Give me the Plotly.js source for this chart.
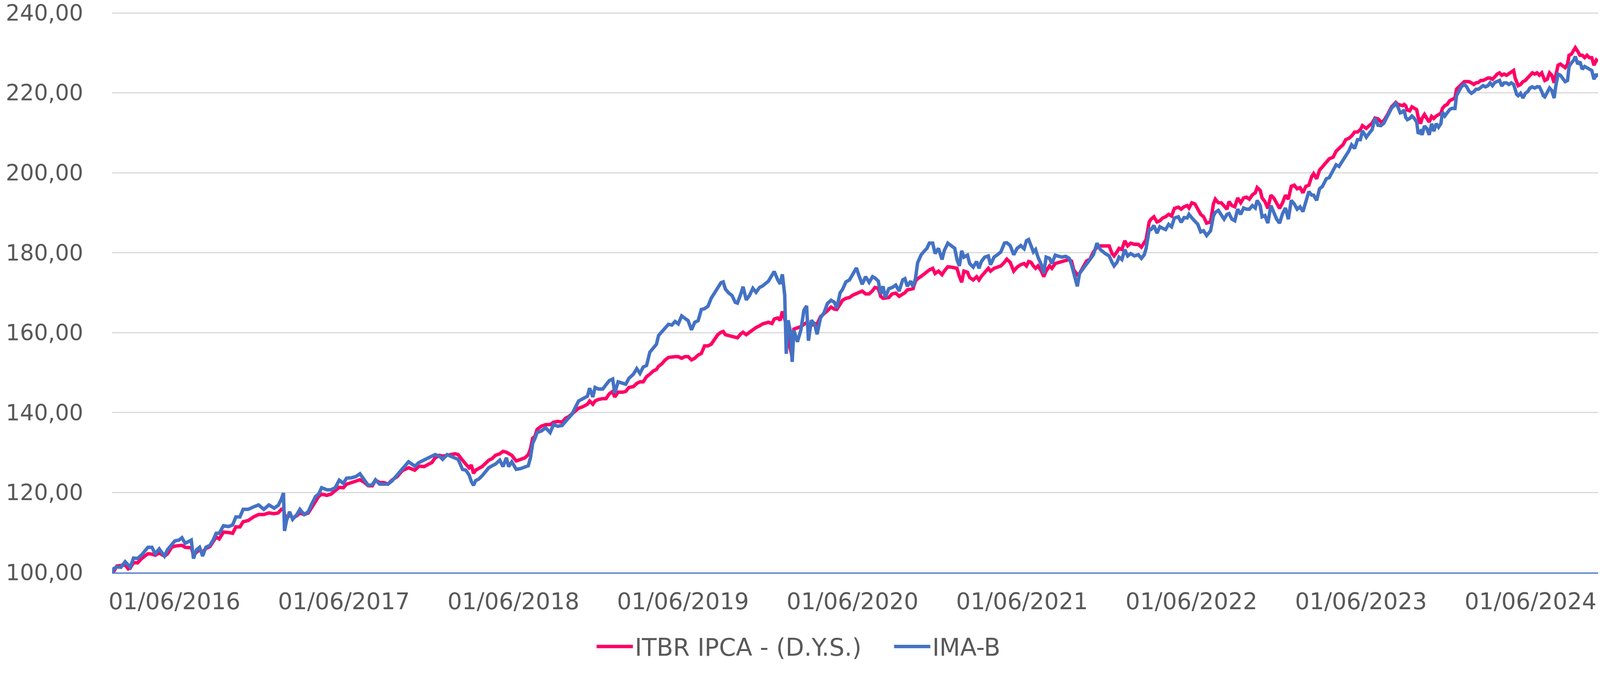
<!DOCTYPE html>
<html>
<head>
<meta charset="utf-8">
<script src="https://cdn.plot.ly/plotly-3.0.1.min.js"></script>
<style>html,body{margin:0;padding:0;background:#fff;overflow:hidden;}#chart{display:block;}</style>
</head>
<body>
<div id="chart"></div>
<script>
// time in decimal years
const t = [
2016.049,2016.060,2016.077,2016.101,2016.126,2016.144,2016.156,2016.175,2016.199,2016.223,2016.242,2016.260,2016.284,2016.303,2016.327,2016.358,2016.376,2016.400,2016.419,2016.443,2016.461,2016.480,2016.498,2016.516,2016.529,2016.547,2016.565,2016.583,2016.602,2016.626,2016.645,2016.663,2016.681,2016.706,2016.736,2016.760,2016.779,2016.803,2016.822,2016.852,2016.883,2016.913,2016.944,2016.974,2017.005,2017.029,2017.047,2017.060,2017.066,2017.078,2017.096,2017.114,2017.139,2017.157,2017.182,2017.206,2017.224,2017.249,2017.267,2017.285,2017.316,2017.340,2017.365,2017.389,2017.413,2017.432,2017.462,2017.487,2017.511,2017.536,2017.560,2017.584,2017.603,2017.627,2017.651,2017.676,2017.700,2017.731,2017.761,2017.798,2017.835,2017.859,
2017.890,2017.916,2017.935,2017.955,2017.980,2017.999,2018.026,2018.045,2018.071,2018.090,2018.103,2018.116,2018.136,2018.155,2018.168,2018.181,2018.194,2018.213,2018.232,2018.252,2018.271,2018.291,2018.310,2018.336,2018.355,2018.375,2018.388,2018.407,2018.433,2018.459,2018.485,2018.504,2018.517,2018.530,2018.543,2018.556,2018.581,2018.607,2018.633,2018.653,2018.678,2018.704,2018.724,2018.743,2018.762,2018.782,2018.801,2018.827,2018.853,2018.866,2018.885,2018.898,2018.918,2018.943,2018.963,2018.982,2019.002,2019.014,2019.034,2019.060,2019.079,2019.098,2019.124,2019.144,2019.163,2019.182,2019.202,2019.221,2019.241,2019.260,2019.273,2019.292,2019.312,2019.331,2019.351,2019.370,2019.389,2019.409,2019.428,2019.447,2019.467,2019.486,2019.506,2019.525,2019.544,2019.564,2019.583,2019.603,2019.622,2019.641,2019.654,2019.667,2019.687,2019.706,2019.725,2019.738,2019.758,2019.771,2019.790,2019.809,2019.829,2019.848,2019.868,2019.887,
2019.921,2019.942,2019.955,2019.976,2019.990,2020.003,2020.017,2020.026,2020.037,2020.051,2020.061,2020.071,2020.092,2020.112,2020.130,2020.146,2020.157,2020.174,2020.194,2020.208,2020.228,2020.249,2020.269,2020.290,2020.310,2020.324,2020.344,2020.358,2020.378,2020.399,2020.419,2020.440,2020.453,2020.474,2020.494,2020.515,2020.535,2020.549,2020.569,2020.583,2020.597,2020.610,2020.631,2020.651,2020.672,2020.692,2020.713,2020.726,2020.740,2020.760,2020.774,2020.788,2020.801,2020.822,2020.842,2020.856,2020.870,2020.890,2020.904,2020.924,2020.945,2020.958,2020.979,2020.999,2021.020,2021.033,2021.047,2021.061,2021.074,2021.095,2021.108,2021.129,2021.149,2021.163,2021.177,2021.197,2021.218,2021.231,2021.252,2021.272,2021.292,2021.313,2021.327,2021.347,2021.368,2021.388,2021.409,2021.429,2021.443,2021.456,2021.470,2021.484,2021.497,2021.511,2021.531,2021.545,2021.559,2021.579,2021.593,2021.613,2021.634,2021.654,2021.674,2021.695,2021.709,2021.722,2021.743,2021.756,2021.777,2021.797,2021.818,2021.838,2021.859,2021.879,
2021.908,2021.931,2021.948,2021.960,2021.977,2021.989,2022.006,2022.023,2022.040,2022.058,2022.080,2022.103,2022.121,2022.138,2022.149,2022.167,2022.178,2022.195,2022.213,2022.230,2022.247,2022.264,2022.282,2022.299,2022.316,2022.339,2022.356,2022.373,2022.391,2022.402,2022.419,2022.437,2022.454,2022.471,2022.488,2022.506,2022.529,2022.546,2022.557,2022.575,2022.592,2022.609,2022.626,2022.638,2022.655,2022.672,2022.689,2022.707,2022.724,2022.741,2022.758,2022.776,2022.793,2022.804,2022.822,2022.833,2022.850,2022.867,2022.885,2022.902,2022.919,2022.936,2022.954,2022.971,2022.988,2023.005,2023.023,2023.040,2023.057,2023.074,2023.091,2023.109,2023.126,2023.137,2023.155,2023.172,2023.189,2023.212,2023.229,2023.252,2023.270,2023.287,2023.310,2023.327,2023.344,2023.361,2023.379,2023.396,2023.413,2023.425,2023.448,2023.465,2023.482,2023.499,2023.517,2023.534,2023.551,2023.574,2023.597,
2023.611,2023.622,2023.634,2023.648,2023.662,2023.671,2023.680,2023.690,2023.704,2023.717,2023.731,2023.745,2023.754,2023.768,2023.777,2023.791,2023.805,2023.819,2023.833,2023.846,2023.860,2023.874,2023.888,2023.897,2023.911,2023.925,2023.939,2023.952,2023.971,2023.980,2023.994,2024.008,2024.026,2024.040,2024.054,2024.068,2024.082,2024.095,2024.109,2024.123,2024.137,2024.151,2024.165,2024.178,2024.192,2024.206,2024.220,2024.234,2024.247,2024.261,2024.275,2024.289,2024.303,2024.317,2024.326,2024.335,2024.344,2024.358,2024.372,2024.386,2024.400,2024.413,2024.427,2024.441,2024.455,2024.469,2024.483,2024.492,2024.501,2024.515,2024.529,2024.542,2024.556,2024.566,2024.579,2024.593,2024.607,2024.621,2024.635,2024.644,2024.658,2024.672,2024.681,2024.695,2024.708,2024.722,2024.736,2024.750,2024.764,2024.778,2024.791,2024.805,2024.815
];

// ITBR IPCA - (D.Y.S.)
const itbr = [
100.0,100.4,101.6,101.7,101.9,100.9,101.1,102.5,102.4,103.5,104.0,104.7,104.6,104.3,104.9,104.1,104.7,106.3,106.6,106.8,106.8,106.3,106.3,106.2,104.4,105.1,105.7,105.1,106.0,106.5,107.6,108.9,108.4,110.1,110.0,109.8,111.4,111.4,112.7,113.0,113.9,114.5,114.5,114.9,114.7,114.9,115.8,116.0,114.5,113.4,114.5,113.6,114.2,114.9,114.5,114.9,116.1,117.7,119.0,119.6,119.3,119.6,120.5,121.3,121.2,122.1,122.5,122.8,123.2,122.6,121.7,121.7,123.1,122.5,122.5,122.1,123.1,124.0,125.5,126.2,125.6,126.6,
126.5,127.1,127.5,128.7,129.3,129.1,129.3,129.3,129.7,129.5,128.7,128.1,127.1,126.2,126.9,124.8,125.6,126.0,126.5,127.3,128.1,128.5,129.3,129.7,130.3,130.1,129.7,129.3,127.9,128.3,128.7,129.5,130.9,133.6,134.0,135.8,136.6,137.0,137.0,137.6,137.8,137.6,138.6,139.0,139.6,140.5,141.1,141.5,142.1,142.9,142.1,142.9,143.3,143.5,143.5,144.7,145.3,143.9,145.1,145.1,145.3,146.3,146.5,147.3,147.7,147.7,149.0,149.6,150.4,150.8,151.6,152.2,153.2,153.8,154.0,154.0,154.0,153.6,154.0,154.0,153.2,153.6,154.4,154.8,156.7,156.7,157.1,158.5,159.5,160.1,160.3,159.5,159.3,159.1,158.7,158.7,159.7,160.1,159.5,160.1,160.9,161.3,161.7,162.2,
162.6,162.3,163.4,163.7,163.1,165.3,163.4,162.0,158.6,155.5,153.9,160.9,161.2,161.5,162.1,162.5,161.8,161.8,162.3,162.1,164.0,164.7,165.5,166.4,165.9,165.8,167.2,168.1,168.6,168.8,169.4,169.7,170.0,170.4,169.7,169.7,170.5,171.3,171.1,169.1,168.6,168.6,168.8,169.7,169.9,169.1,169.7,170.0,170.7,170.8,171.0,172.9,173.5,174.1,174.8,175.1,175.7,176.1,174.8,175.4,174.5,175.4,176.5,176.4,176.1,176.1,174.1,172.6,175.4,175.1,173.8,173.2,174.0,173.2,174.1,175.1,176.1,175.4,176.1,176.4,176.7,177.6,178.4,177.6,175.4,176.4,177.0,177.3,176.7,177.8,177.6,176.7,176.1,176.7,175.4,174.0,175.4,176.7,176.1,177.3,177.5,177.8,177.9,178.3,177.9,175.7,174.5,174.8,176.4,177.9,178.4,180.2,181.4,181.7,
181.7,181.7,179.8,179.2,180.2,181.1,180.8,183.0,181.7,182.4,182.1,182.1,181.4,182.4,183.3,187.7,188.4,189.0,187.7,188.0,188.7,189.0,189.6,189.2,191.1,191.4,190.9,191.5,191.8,191.2,192.5,192.2,190.9,189.6,189.0,187.4,187.7,192.2,193.4,192.5,192.5,191.8,190.9,192.8,191.8,191.5,193.7,192.5,193.7,193.9,193.4,194.5,195.0,196.3,195.6,193.7,192.8,191.1,194.4,193.7,192.5,191.1,192.5,194.4,193.4,196.6,196.9,196.0,196.3,195.0,196.6,196.9,199.1,199.8,198.5,200.7,201.5,202.6,203.5,203.9,205.4,206.1,207.0,208.3,208.6,209.2,210.2,210.2,210.8,211.8,211.1,211.8,212.4,213.7,213.5,212.7,213.0,214.6,216.5,
217.1,217.6,217.1,216.9,216.8,217.1,216.8,215.7,215.5,216.5,216.1,215.8,213.9,212.3,213.6,214.6,213.6,212.7,214.1,213.6,214.2,214.6,214.9,216.1,216.8,217.1,218.0,218.3,218.7,220.9,221.5,222.1,222.8,222.8,222.8,222.5,222.1,222.5,222.6,223.1,223.1,223.4,223.7,223.7,223.4,224.0,224.7,225.0,224.4,224.7,224.4,224.8,225.3,225.6,223.7,222.8,221.8,222.1,222.8,223.1,223.7,224.4,225.0,224.7,225.0,224.4,225.0,224.0,223.1,223.4,225.0,224.4,222.5,224.4,226.9,227.2,226.6,226.3,227.2,229.4,229.7,230.7,231.3,230.4,229.4,229.4,228.8,229.4,228.8,228.8,226.9,228.2,227.8
];

// IMA-B
const imab = [
100.0,101.0,101.4,101.3,102.7,101.9,101.3,103.6,103.5,104.4,105.4,106.3,106.3,104.7,105.9,104.1,105.7,107.1,107.9,108.1,108.7,107.3,107.6,108.1,103.5,105.7,106.3,104.1,106.3,106.8,108.1,109.8,109.8,111.7,111.5,111.9,113.9,113.9,115.8,115.8,116.4,116.9,115.8,116.9,116.1,116.8,118.3,119.9,110.4,113.0,115.2,113.3,114.5,115.8,114.5,115.2,116.9,119.0,119.6,121.2,120.7,120.7,121.2,123.1,122.3,123.6,123.7,124.0,124.7,123.1,121.8,122.0,123.2,122.1,122.0,122.1,122.9,124.3,125.9,127.7,126.6,127.5,
128.1,128.5,129.1,129.5,129.1,128.3,129.5,129.1,128.7,128.3,127.1,125.8,125.6,124.4,122.8,121.8,123.0,123.4,124.2,125.4,126.2,126.7,127.1,128.1,126.5,128.7,126.5,127.7,125.8,126.0,126.5,126.7,128.7,132.3,133.5,135.0,135.4,136.2,135.0,137.0,136.6,136.8,137.8,138.6,139.6,141.3,142.9,143.5,144.1,146.1,143.9,146.3,145.9,145.9,146.9,148.0,148.4,144.9,147.7,147.3,147.1,148.6,149.6,151.0,149.8,151.4,151.8,155.1,156.3,157.1,159.3,160.3,161.3,162.1,161.9,162.8,162.2,164.2,163.6,163.0,160.7,162.6,163.0,165.8,166.0,166.6,168.6,169.9,170.9,172.5,172.7,170.9,169.9,169.3,167.6,167.4,169.7,171.5,168.2,169.3,171.1,170.1,171.3,171.7,
172.9,174.2,175.3,173.2,172.2,174.6,169.4,154.7,163.1,160.2,152.7,160.6,157.7,160.6,165.6,166.7,158.0,163.1,162.1,159.6,163.7,165.0,167.3,168.1,167.6,166.1,170.0,170.8,172.7,173.2,174.6,176.2,174.5,172.1,174.0,172.6,174.0,173.7,172.9,169.7,171.6,168.8,171.0,171.3,171.9,170.4,173.2,173.5,171.6,172.9,171.5,173.5,177.5,179.5,180.5,181.1,182.4,182.4,179.8,181.1,178.3,180.5,182.4,181.8,181.1,178.3,176.7,180.5,178.9,179.4,177.3,176.4,177.8,176.1,177.8,178.9,179.2,177.0,178.9,179.5,180.2,182.4,182.5,181.8,179.5,181.1,181.8,181.0,183.0,183.3,181.9,180.2,180.8,178.9,177.0,174.8,178.9,178.6,177.3,179.4,179.1,178.9,179.1,178.6,177.0,174.8,171.6,174.8,176.1,177.3,178.3,179.5,182.4,180.8,
179.8,179.2,177.6,176.7,177.6,178.9,178.3,180.8,179.2,179.8,179.2,179.5,178.6,179.5,181.1,185.8,185.8,186.8,184.9,186.5,186.1,185.8,187.1,186.5,188.7,189.0,187.6,188.8,188.7,189.6,188.7,188.0,187.1,185.2,185.5,184.3,185.5,189.2,190.1,190.6,189.3,188.4,189.6,189.8,188.4,188.0,190.9,189.6,191.2,190.9,190.9,191.8,191.2,193.1,191.8,189.0,189.3,187.4,191.8,190.3,188.4,187.4,189.8,191.2,188.4,193.1,192.2,190.9,191.5,190.3,192.5,195.3,194.4,194.4,193.1,196.0,196.6,198.5,198.8,200.4,202.0,201.6,203.2,204.5,205.4,207.0,206.1,208.3,208.3,210.5,208.9,209.9,210.8,213.7,211.9,211.8,212.4,214.3,216.2,
216.8,217.4,216.5,215.0,215.2,215.8,213.9,213.3,213.6,214.2,213.6,212.7,209.8,210.4,209.5,211.7,211.1,209.5,212.3,210.4,212.3,211.4,212.3,215.2,214.2,215.2,215.8,216.1,216.1,219.3,220.6,221.5,222.1,221.5,220.4,219.9,220.3,220.9,220.9,221.5,221.8,221.5,221.8,222.5,221.8,222.6,222.8,223.1,221.7,222.5,222.5,222.1,222.5,222.1,220.9,219.6,219.3,219.9,218.7,219.9,220.3,221.2,221.5,221.2,221.5,221.5,220.3,219.3,219.0,220.3,221.2,220.6,218.7,221.8,224.7,224.4,223.4,222.8,223.1,226.6,227.5,228.2,229.1,227.2,227.8,225.9,226.6,226.3,225.9,225.6,223.4,224.7,224.0
];

const tickVals = [2016.4167,2017.4167,2018.4167,2019.4167,2020.4167,2021.4167,2022.4167,2023.4167,2024.4167];
const tickText = ['01/06/2016','01/06/2017','01/06/2018','01/06/2019','01/06/2020','01/06/2021','01/06/2022','01/06/2023','01/06/2024'];
const seriesNames = ['ITBR IPCA - (D.Y.S.)','IMA-B'];
const seriesColors = ['#FF0066','#4472C4'];

// size everything from the real viewport width, keeping the reference aspect ratio
const W = window.innerWidth || 4192;
const H = Math.round(W * 1735 / 4192);
const s = W / 4192;
const el = document.getElementById('chart');
el.style.width = W + 'px';
el.style.height = H + 'px';

const traces = [
  {x: t, y: itbr, type: 'scatter', mode: 'lines', name: seriesNames[0],
   line: {color: seriesColors[0], width: 9 * s}},
  {x: t, y: imab, type: 'scatter', mode: 'lines', name: seriesNames[1],
   line: {color: seriesColors[1], width: 9 * s}}
];

const fontFam = '"DejaVu Sans", "Open Sans", sans-serif';
const txt = '#595959';
const layout = {
  width: W, height: H,
  margin: {l: 294 * s, r: 5 * s, t: 32 * s, b: 235 * s, pad: 0},
  paper_bgcolor: '#ffffff', plot_bgcolor: '#ffffff',
  separators: ',.',
  font: {family: fontFam, size: 60 * s, color: txt},
  xaxis: {
    type: 'linear', range: [2016.049, 2024.815],
    tickmode: 'array', tickvals: tickVals, ticktext: tickText,
    showgrid: false, zeroline: false, showline: true,
    linecolor: '#4472C4', linewidth: 3 * s,
    ticks: 'outside', ticklen: 21 * s, tickcolor: 'rgba(0,0,0,0)',
    ticklabeloverflow: 'allow',
    tickfont: {family: fontFam, size: 60 * s, color: txt}
  },
  yaxis: {
    range: [100, 240.2], tick0: 100, dtick: 20, tickformat: '.2f',
    showgrid: true, gridcolor: '#D9D9D9', gridwidth: 3 * s,
    zeroline: false, showline: false,
    ticks: 'outside', ticklen: 63 * s, tickcolor: 'rgba(0,0,0,0)',
    ticklabeloverflow: 'allow',
    tickfont: {family: fontFam, size: 58 * s, color: txt}
  },
  showlegend: true,
  legend: {
    orientation: 'h', xref: 'container', yref: 'container',
    x: 1558 / 4192, xanchor: 'left', y: 1 - 1694 / 1735, yanchor: 'middle',
    font: {family: fontFam, size: 63 * s, color: txt},
    bgcolor: 'rgba(0,0,0,0)', traceorder: 'normal',
    itemwidth: 95 * s, entrywidth: 669 * s, entrywidthmode: 'pixels'
  }
};

Plotly.newPlot('chart', traces, layout, {displayModeBar: false, staticPlot: true});
</script>
</body>
</html>
